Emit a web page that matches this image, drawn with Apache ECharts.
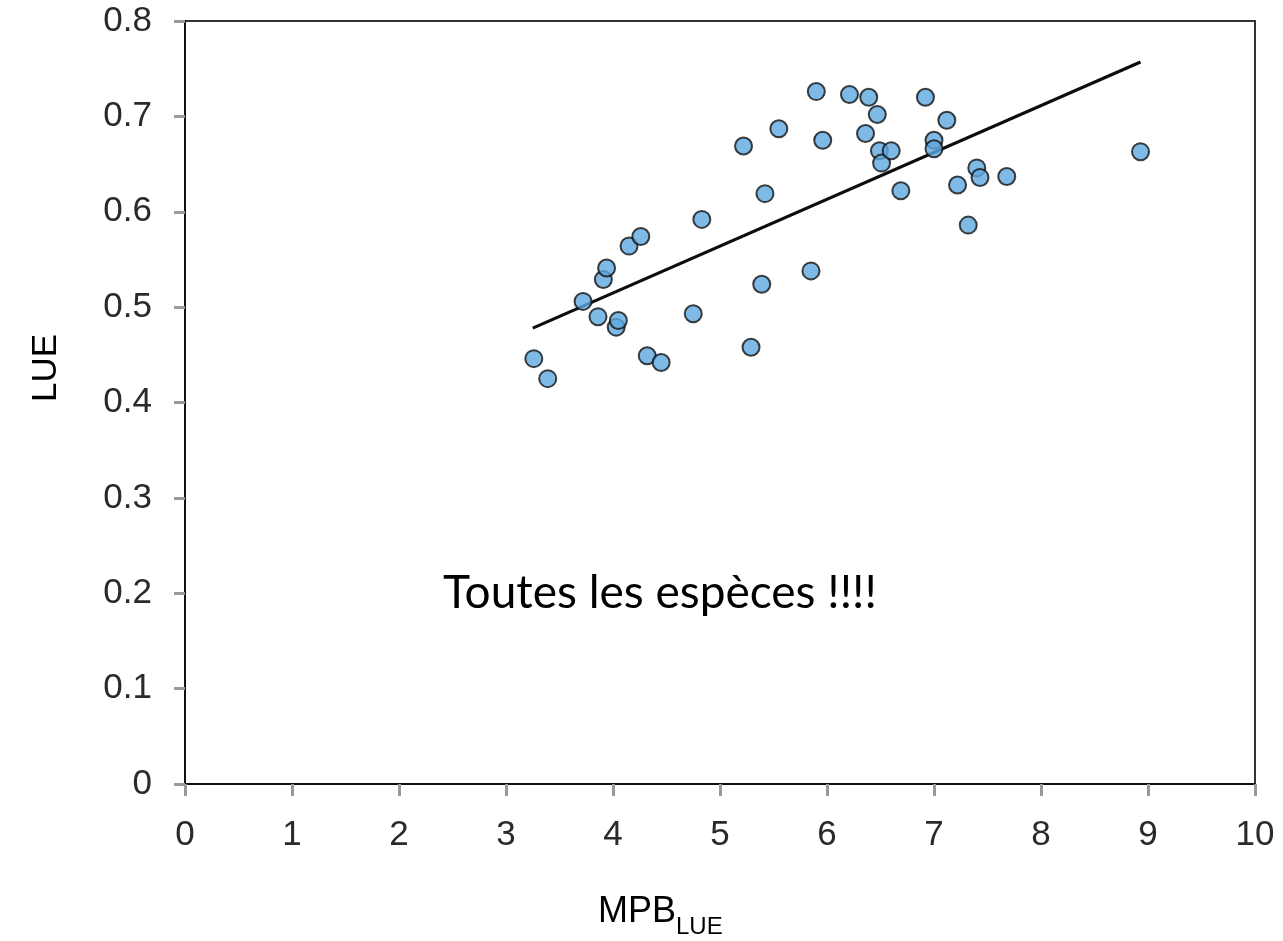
<!DOCTYPE html>
<html>
<head>
<meta charset="utf-8">
<title>LUE vs MPB</title>
<script src="https://cdn.jsdelivr.net/npm/echarts@6/dist/echarts.min.js"></script>
<style>
  html, body { margin: 0; padding: 0; background: #fff; }
  #chart { width: 1283px; height: 941px; }
</style>
</head>
<body>
<div id="chart"></div>
<script>
// Observed values per sample: MPB (x) and LUE (y)
const mpb = [3.26, 3.39, 3.72, 3.86, 3.91, 3.94, 4.03, 4.05, 4.15, 4.26,
             4.32, 4.45, 4.75, 4.83, 5.22, 5.29, 5.39, 5.42, 5.55, 5.85,
             5.90, 5.96, 6.21, 6.36, 6.39, 6.47, 6.49, 6.51, 6.60, 6.69,
             6.92, 7.00, 7.00, 7.12, 7.22, 7.32, 7.40, 7.43, 7.68, 8.93];
const lue = [0.446, 0.425, 0.506, 0.490, 0.529, 0.541, 0.479, 0.486, 0.564, 0.574,
             0.449, 0.442, 0.493, 0.592, 0.669, 0.458, 0.524, 0.619, 0.687, 0.538,
             0.726, 0.675, 0.723, 0.682, 0.720, 0.702, 0.664, 0.651, 0.664, 0.622,
             0.720, 0.675, 0.666, 0.696, 0.628, 0.586, 0.646, 0.636, 0.637, 0.663];

// Fitted linear trend, end points
const trendX = [3.25, 8.93];
const trendY = [0.478, 0.757];

const xTicks = [0, 1, 2, 3, 4, 5, 6, 7, 8, 9, 10];
const yTicks = [0, 0.1, 0.2, 0.3, 0.4, 0.5, 0.6, 0.7, 0.8];

const points = mpb.map((x, i) => [x, lue[i]]);
const trend = trendX.map((x, i) => [x, trendY[i]]);

const labelFont = 'Liberation Sans, Arial, sans-serif';

const chart = echarts.init(document.getElementById('chart'), null, { renderer: 'canvas' });
chart.setOption({
  backgroundColor: '#ffffff',
  animation: false,
  grid: {
    left: 185, right: 28, top: 21, bottom: 157,
    show: true, borderColor: '#333', borderWidth: 2, backgroundColor: 'transparent'
  },
  xAxis: {
    type: 'value',
    min: xTicks[0], max: xTicks[xTicks.length - 1], interval: 1,
    axisLine: { show: true, onZero: false, lineStyle: { color: '#111', width: 2 } },
    axisTick: { show: true, length: 12, lineStyle: { color: '#999', width: 3 } },
    axisLabel: { margin: 34, fontSize: 35, color: '#2a2a2a', fontFamily: labelFont },
    splitLine: { show: false }
  },
  yAxis: {
    type: 'value',
    min: yTicks[0], max: yTicks[yTicks.length - 1], interval: 0.1,
    axisLine: { show: true, onZero: false, lineStyle: { color: '#111', width: 2 } },
    axisTick: { show: true, length: 11, lineStyle: { color: '#999', width: 3 } },
    axisLabel: { margin: 33, fontSize: 35, color: '#2a2a2a', fontFamily: labelFont },
    splitLine: { show: false }
  },
  series: [
    {
      type: 'line',
      data: trend,
      symbol: 'none',
      lineStyle: { color: '#0d0d0d', width: 3.2 },
      z: 2
    },
    {
      type: 'scatter',
      data: points,
      symbol: 'circle',
      symbolSize: 17,
      itemStyle: { color: '#5fa8df', borderColor: '#111', borderWidth: 2 },
      z: 3
    }
  ],
  graphic: [
    {
      type: 'text', left: 443, top: 570,
      style: { text: 'Toutes les espèces !!!!', fontSize: 46, fontFamily: 'Lato, Carlito, sans-serif', fill: '#000' }
    },
    {
      type: 'text', x: 46, y: 368, rotation: Math.PI / 2,
      style: { text: 'LUE', fontSize: 35, fontFamily: labelFont, fill: '#000', align: 'center', verticalAlign: 'middle' }
    },
    {
      type: 'text', left: 598, top: 894,
      style: {
        text: '{m|MPB}{s|LUE}',
        rich: {
          m: { fontSize: 36, fontFamily: labelFont, fill: '#000', verticalAlign: 'bottom' },
          s: { fontSize: 24, fontFamily: labelFont, fill: '#000', verticalAlign: 'bottom', padding: [0, 0, -9, 0] }
        }
      }
    }
  ]
});
</script>
</body>
</html>
